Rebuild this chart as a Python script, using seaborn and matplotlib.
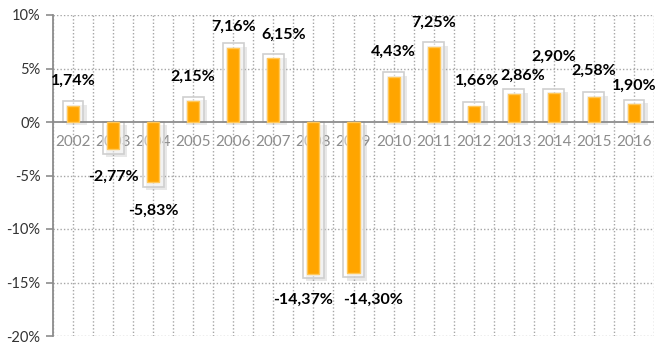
import numpy as np
import pandas as pd
import seaborn as sns
from matplotlib import pyplot as plt
from matplotlib import patheffects as pe

years = ["2002", "2003", "2004", "2005", "2006", "2007", "2008", "2009",
         "2010", "2011", "2012", "2013", "2014", "2015", "2016"]
growth = [1.74, -2.77, -5.83, 2.15, 7.16, 6.15, -14.37, -14.30,
          4.43, 7.25, 1.66, 2.86, 2.90, 2.58, 1.90]
y_ticks = [10, 5, 0, -5, -10, -15, -20]

# label placement tweaks (category units / percent units)
label_dx = [0, 0, 0, 0, 0, 0.25, -0.25, 0.5, 0, 0, 0.1, 0.22, 0, 0, 0]
label_dy = [2.07, -2.33, -2.45, 2.04, 1.77, 2.04, -2.28, -2.35, 2.17, 2.05,
            2.15, 1.42, 3.15, 2.16, 1.45]

sns.set_style("white")
plt.rcParams["font.family"] = ["Lato", "DejaVu Sans"]

df = pd.DataFrame({"year": years, "growth": growth})
df["frame"] = df["growth"] + np.sign(df["growth"]) * 0.2
df["core"] = df["growth"] - np.sign(df["growth"]) * 0.2

fig = plt.figure(figsize=(6.55, 3.44), dpi=100)
ax = fig.add_axes([53 / 655, 8 / 344, 601 / 655, 321 / 344])

# grid
for yv in y_ticks:
    if yv != 0:
        ax.axhline(yv, color="#a6a6a6", lw=1.0, ls=(0, (1, 1.5)), zorder=0)
for xv in np.arange(0, len(years) + 0.5, 0.5) - 0.5:
    ax.axvline(xv, color="#a6a6a6", lw=1.0, ls=(0, (1, 1.5)), zorder=0)

# year labels behind the bars
for i, yr in enumerate(years):
    ax.text(i, -1.9, yr, ha="center", va="center", fontsize=11,
            color="#8c8c8c", zorder=1)

sns.barplot(data=df, x="year", y="frame", width=0.52, color="white",
            edgecolor="#cfcfcf", linewidth=1.2, saturation=1, ax=ax, zorder=2)
for p in ax.patches:
    p.set_facecolor((1, 1, 1, 0.45))
    p.set_path_effects([pe.SimplePatchShadow(offset=(2.5, -2.5), shadow_rgbFace="#9a9a9a", alpha=0.22),
                        pe.Normal()])

sns.barplot(data=df, x="year", y="core", width=0.3, color="#ffa500",
            edgecolor="#ffc85a", linewidth=1.0, saturation=1, ax=ax, zorder=3)

ax.axhline(0, color="#8c8c8c", lw=1.3, zorder=2.5)

for i, v in enumerate(growth):
    txt = f"{v:.2f}".replace(".", ",") + "%"
    ax.text(i + label_dx[i], v + label_dy[i], txt, ha="center", va="center",
            fontsize=11.5, fontweight="bold", color="black", zorder=5)

ax.set_ylim(-20, 10)
ax.set_xlim(-0.5, len(years) - 0.5)
ax.set_yticks(y_ticks)
ax.set_yticklabels([f"{t}%" for t in y_ticks], fontsize=10.5, color="#333333")
ax.set_xticks([])
ax.set_xlabel("")
ax.set_ylabel("")
ax.tick_params(axis="y", direction="out", length=5, width=1.2, color="#8c8c8c", pad=4, left=True)
for s in ["top", "right", "bottom"]:
    ax.spines[s].set_visible(False)
ax.spines["left"].set_color("#8c8c8c")
ax.spines["left"].set_linewidth(1.3)

fig.savefig("out.png", dpi=100)
